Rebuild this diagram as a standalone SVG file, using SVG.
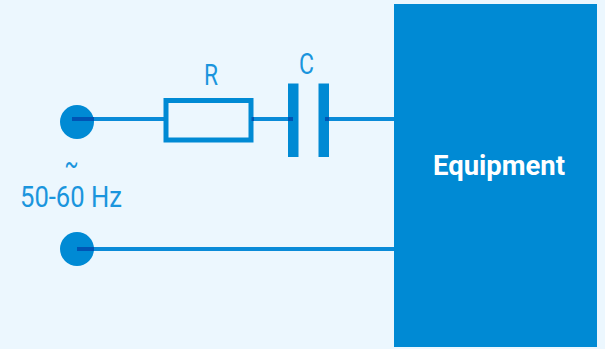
<svg xmlns="http://www.w3.org/2000/svg" width="605" height="349" viewBox="0 0 605 349">
<style>
.w{stroke:#0a8bd8;stroke-width:4;fill:none}
.d{stroke:#0054b4;stroke-width:4;fill:none}
.f{fill:#008ad4}
.t{font-family:Roboto,"Liberation Sans",sans-serif;fill:#1a95dd;text-anchor:middle;font-size:29px;font-weight:400}
</style>
<rect width="605" height="349" fill="#ecf7fe"/>
<g id="equipment"><rect class="f" x="394" y="4" width="203" height="343"/>
<text x="499" y="175" text-anchor="middle" font-family="Roboto,'Liberation Sans',sans-serif" font-weight="700" font-size="28" fill="#fff" textLength="132" lengthAdjust="spacingAndGlyphs">Equipment</text></g>
<g id="connectors">
<path class="w" d="M94 119H165M253 119H288M329 119H394M94 249H394"/>
</g>
<g id="terminal-1"><circle class="f" cx="77" cy="122" r="17"/><path class="d" d="M72 119H94"/></g>
<g id="terminal-2"><circle class="f" cx="77" cy="249" r="17"/><path class="d" d="M77 249H94"/></g>
<g id="resistor"><rect x="166" y="100.500" width="85" height="39.500" fill="none" stroke="#008ad4" stroke-width="5"/><path class="d" d="M251.500 119H254"/><text class="t" x="211" y="85" textLength="14" lengthAdjust="spacingAndGlyphs">R</text></g>
<g id="capacitor"><rect class="f" x="288" y="83.500" width="10.500" height="73.500"/><rect class="f" x="318.500" y="83.500" width="10.500" height="73.500"/><path class="d" d="M288 119H293M325 119H329"/><text class="t" x="306.500" y="74" textLength="15" lengthAdjust="spacingAndGlyphs">C</text></g>
<g id="source-label"><text class="t" x="71.500" y="174" textLength="14" lengthAdjust="spacingAndGlyphs">~</text><text class="t" x="71" y="207" textLength="102" lengthAdjust="spacingAndGlyphs">50-60 Hz</text></g>
</svg>
